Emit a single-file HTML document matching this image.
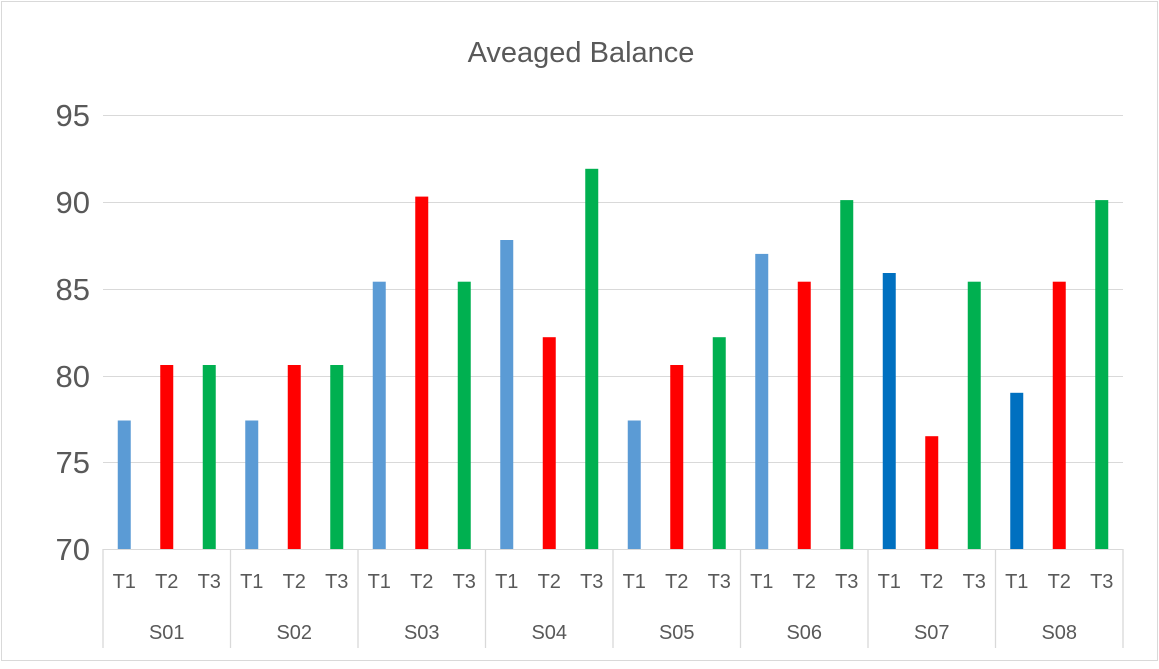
<!DOCTYPE html>
<html><head><meta charset="utf-8"><style>body{margin:0;background:#fff}svg{display:block}</style></head><body>
<svg width="1159" height="669" xmlns="http://www.w3.org/2000/svg" font-family="Liberation Sans, sans-serif" fill="#595959">
<rect x="1.5" y="1.5" width="1156" height="659" fill="#fff" stroke="#d9d9d9" stroke-width="1"/>
<text x="581" y="62" font-size="29" text-anchor="middle">Aveaged Balance</text>
<g stroke="#d9d9d9" stroke-width="1">
<line x1="103" x2="1123" y1="115.5" y2="115.5"/><line x1="103" x2="1123" y1="202.5" y2="202.5"/><line x1="103" x2="1123" y1="289.5" y2="289.5"/><line x1="103" x2="1123" y1="376.5" y2="376.5"/><line x1="103" x2="1123" y1="462.5" y2="462.5"/><line x1="103" x2="1123" y1="549.5" y2="549.5"/>
</g>
<g font-size="31" text-anchor="end">
<text x="90" y="126">95</text><text x="90" y="213">90</text><text x="90" y="300">85</text><text x="90" y="387">80</text><text x="90" y="473">75</text><text x="90" y="560">70</text>
</g>
<g>
<rect x="117.75" y="420.5" width="13" height="128.5" fill="#5B9BD5"/>
<rect x="160.25" y="365" width="13" height="184" fill="#FF0000"/>
<rect x="202.75" y="365" width="13" height="184" fill="#00B050"/>
<rect x="245.25" y="420.5" width="13" height="128.5" fill="#5B9BD5"/>
<rect x="287.75" y="365" width="13" height="184" fill="#FF0000"/>
<rect x="330.25" y="365" width="13" height="184" fill="#00B050"/>
<rect x="372.75" y="281.7" width="13" height="267.3" fill="#5B9BD5"/>
<rect x="415.25" y="196.6" width="13" height="352.4" fill="#FF0000"/>
<rect x="457.75" y="281.7" width="13" height="267.3" fill="#00B050"/>
<rect x="500.25" y="240" width="13" height="309" fill="#5B9BD5"/>
<rect x="542.75" y="337.2" width="13" height="211.8" fill="#FF0000"/>
<rect x="585.25" y="168.8" width="13" height="380.2" fill="#00B050"/>
<rect x="627.75" y="420.5" width="13" height="128.5" fill="#5B9BD5"/>
<rect x="670.25" y="365" width="13" height="184" fill="#FF0000"/>
<rect x="712.75" y="337.2" width="13" height="211.8" fill="#00B050"/>
<rect x="755.25" y="253.9" width="13" height="295.1" fill="#5B9BD5"/>
<rect x="797.75" y="281.7" width="13" height="267.3" fill="#FF0000"/>
<rect x="840.25" y="200.1" width="13" height="348.9" fill="#00B050"/>
<rect x="882.75" y="273" width="13" height="276" fill="#0070C0"/>
<rect x="925.25" y="436.2" width="13" height="112.8" fill="#FF0000"/>
<rect x="967.75" y="281.7" width="13" height="267.3" fill="#00B050"/>
<rect x="1010.25" y="392.8" width="13" height="156.2" fill="#0070C0"/>
<rect x="1052.75" y="281.7" width="13" height="267.3" fill="#FF0000"/>
<rect x="1095.25" y="200.1" width="13" height="348.9" fill="#00B050"/>
</g>
<g stroke="#d9d9d9" stroke-width="1.3">
<line x1="103" x2="103" y1="549" y2="648"/><line x1="230.5" x2="230.5" y1="549" y2="648"/><line x1="358" x2="358" y1="549" y2="648"/><line x1="485.5" x2="485.5" y1="549" y2="648"/><line x1="613" x2="613" y1="549" y2="648"/><line x1="740.5" x2="740.5" y1="549" y2="648"/><line x1="868" x2="868" y1="549" y2="648"/><line x1="995.5" x2="995.5" y1="549" y2="648"/><line x1="1123" x2="1123" y1="549" y2="648"/>
</g>
<g font-size="20" text-anchor="middle">
<text x="124.25" y="588">T1</text><text x="166.75" y="588">T2</text><text x="209.25" y="588">T3</text>
<text x="251.75" y="588">T1</text><text x="294.25" y="588">T2</text><text x="336.75" y="588">T3</text>
<text x="379.25" y="588">T1</text><text x="421.75" y="588">T2</text><text x="464.25" y="588">T3</text>
<text x="506.75" y="588">T1</text><text x="549.25" y="588">T2</text><text x="591.75" y="588">T3</text>
<text x="634.25" y="588">T1</text><text x="676.75" y="588">T2</text><text x="719.25" y="588">T3</text>
<text x="761.75" y="588">T1</text><text x="804.25" y="588">T2</text><text x="846.75" y="588">T3</text>
<text x="889.25" y="588">T1</text><text x="931.75" y="588">T2</text><text x="974.25" y="588">T3</text>
<text x="1016.75" y="588">T1</text><text x="1059.25" y="588">T2</text><text x="1101.75" y="588">T3</text>
<text x="166.75" y="639">S01</text><text x="294.25" y="639">S02</text><text x="421.75" y="639">S03</text><text x="549.25" y="639">S04</text>
<text x="676.75" y="639">S05</text><text x="804.25" y="639">S06</text><text x="931.75" y="639">S07</text><text x="1059.25" y="639">S08</text>
</g>
</svg>
</body></html>
